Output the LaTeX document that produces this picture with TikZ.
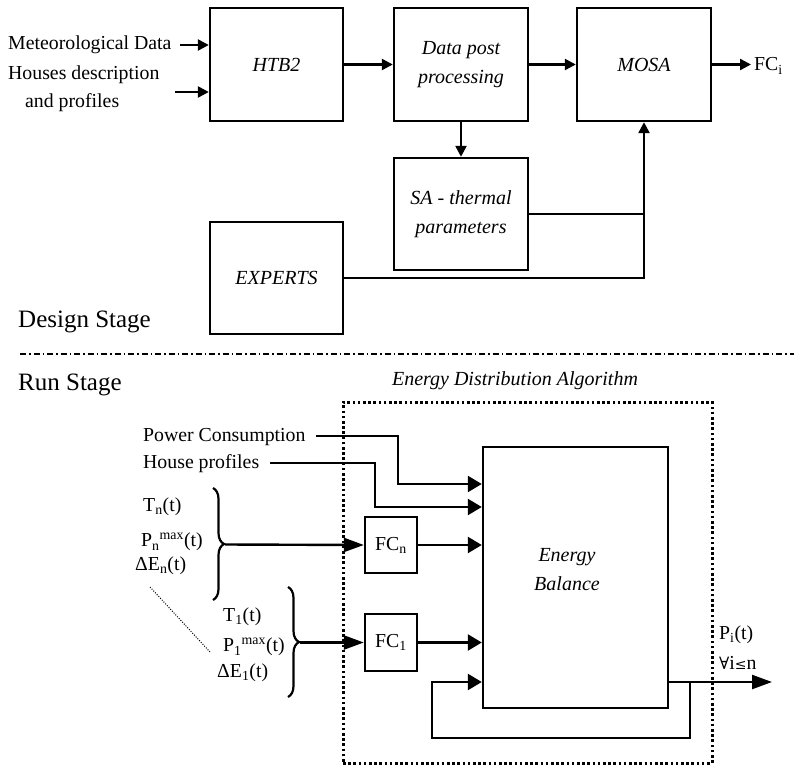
\documentclass[tikz,border=0pt]{standalone}
\usepackage{fontspec}
\setmainfont{Liberation Serif}
\newfontfamily\dvs{DejaVu Serif}
\usetikzlibrary{arrows.meta,decorations.pathreplacing,calc}
\begin{document}
\begin{tikzpicture}[x=1pt,y=-1pt,
  box/.style={draw,line width=2.4pt,inner sep=0pt,align=center,font=\fontsize{20}{29}\selectfont\itshape},
  txt/.style={inner sep=0pt,font=\fontsize{19.8}{22}\selectfont},
  big/.style={inner sep=0pt,font=\fontsize{25}{28}\selectfont},
  ln/.style={line width=2.4pt},
  arr/.style={line width=2.4pt,-{Triangle[length=11pt,width=11pt]}},
  barr/.style={line width=2.4pt,-{Triangle[length=14pt,width=16pt]}},
  larr/.style={line width=2.4pt,-{Triangle[length=20pt,width=14pt]}},
  brc/.style={decorate,decoration={brace,amplitude=11pt},line width=2.2pt}]
\useasboundingbox (0,0) rectangle (794,767);

% ---------- Design stage ----------
\node[box,minimum width=133pt,minimum height=113pt] (htb) at (276.5,64.5) {HTB2};
\node[box,minimum width=134pt,minimum height=113pt] (dpp) at (461,64.5) {Data post\\processing};
\node[box,minimum width=134pt,minimum height=113pt] (mosa) at (644,64.5) {MOSA};
\node[box,minimum width=134pt,minimum height=112pt] (sa) at (461,214) {SA - thermal\\parameters};
\node[box,minimum width=133pt,minimum height=112pt] (exp) at (276.5,278) {EXPERTS};

\node[txt,anchor=west] (met) at (8,45) {Meteorological Data};
\node[txt,anchor=west] (hd) at (8,75) {Houses description};
\node[txt,anchor=west] (ap) at (25,103) {and profiles};
\node[txt,anchor=west] (fci) at (754,66) {FC\textsubscript{i}};

\coordinate (m1) at (180,45);
\coordinate (h1) at (175,92);
\draw[arr] (m1) -- (m1 -| htb.west);
\draw[arr] (h1) -- (h1 -| htb.west);
\draw[arr] (htb.east) -- (dpp.west);
\draw[arr] (dpp.east) -- (mosa.west);
\draw[arr] (mosa.east) -- ([xshift=-3pt]fci.west |- mosa.east);
\draw[arr] (dpp.south) -- (sa.north);
\draw[arr] (sa.east) -- (644,214) -- (mosa.south);
\draw[ln] (exp.east) -- (644,278) -- (644,212.8);

\node[big,anchor=west] (ds) at (18,322) {Design Stage};
\coordinate (sepA) at (20,354);
\coordinate (sepB) at (794,354);
\draw[line width=1.5pt,dash pattern=on 6pt off 3pt on 1.5pt off 3pt] (sepA) -- (sepB);
\node[big,anchor=west] (rs) at (18,385) {Run Stage};

% ---------- Run stage ----------
\node[txt,font=\fontsize{20}{22}\selectfont\itshape] (eda) at (515,381) {Energy Distribution Algorithm};
\node[draw,line width=3pt,dash pattern=on 2.6pt off 2.6pt,minimum width=369pt,minimum height=361pt,inner sep=0pt] (edbox) at (527.5,582.5) {};

\node[box,minimum width=185pt,minimum height=261pt] (eb) at (575.5,577.5) {};
\node[txt,font=\fontsize{20}{29}\selectfont\itshape,align=center] (ebt) at (567,570) {Energy\\Balance};

\node[box,font=\fontsize{19.8}{22}\selectfont,minimum width=52pt,minimum height=56pt] (fcn) at (391,545) {FC\textsubscript{n}};
\node[box,font=\fontsize{19.8}{22}\selectfont,minimum width=52pt,minimum height=57pt] (fc1) at (391,642.5) {FC\textsubscript{1}};

\node[txt,anchor=west] (pc) at (143,437) {Power Consumption};
\node[txt,anchor=west] (hp) at (143,464) {House profiles};
\coordinate (pcs) at (316,436);
\coordinate (hps) at (270,463);
\draw[barr] (pcs) -- (398,436) -- (398,484) -- (eb.west |- 398,484);
\draw[barr] (hps) -- (375,463) -- (375,507) -- (eb.west |- 375,507);

\node[txt,anchor=west] (tn) at (143,507) {T\textsubscript{n}(t)};
\node[txt,anchor=west] (pn) at (141,542) {P\textsubscript{n}\textsuperscript{max}(t)};
\node[txt,anchor=west] (en) at (135,566) {ΔE\textsubscript{n}(t)};
\node[txt,anchor=west] (t1) at (223,617) {T\textsubscript{1}(t)};
\node[txt,anchor=west] (p1) at (223,647) {P\textsubscript{1}\textsuperscript{max}(t)};
\node[txt,anchor=west] (e1) at (217,673) {ΔE\textsubscript{1}(t)};

\draw[brc] (213,488) -- (213,600);
\draw[brc] (288,587) -- (288,697);
\coordinate (bn) at (225,544.5);
\coordinate (b1) at (300,642.5);
\draw[larr] (bn) -- (fcn.west);
\draw[larr] (b1) -- (fc1.west);
\coordinate (d1) at (150,587);
\coordinate (d2) at (210,652);
\draw[line width=1pt,dash pattern=on 1pt off 1.5pt] (d1) -- (d2);

\draw[barr] (fcn.east) -- (fcn.east -| eb.west);
\draw[barr] (fc1.east) -- (fc1.east -| eb.west);

\coordinate (br) at (690,682);
\coordinate (out) at (772,682);
\draw[larr] (eb.east |- br) -- (out);
\draw[barr] (br) -- (690,738) -- (432,738) -- (432,682) -- (eb.west |- br);

\node[txt,anchor=west] (pi) at (719,635) {P\textsubscript{i}(t)};
\node[txt,anchor=west] (fa) at (719,663) {{\dvs\fontsize{17}{20}\selectfont ∀}i{\dvs\fontsize{14}{20}\selectfont ≤}n};
\end{tikzpicture}
\end{document}
